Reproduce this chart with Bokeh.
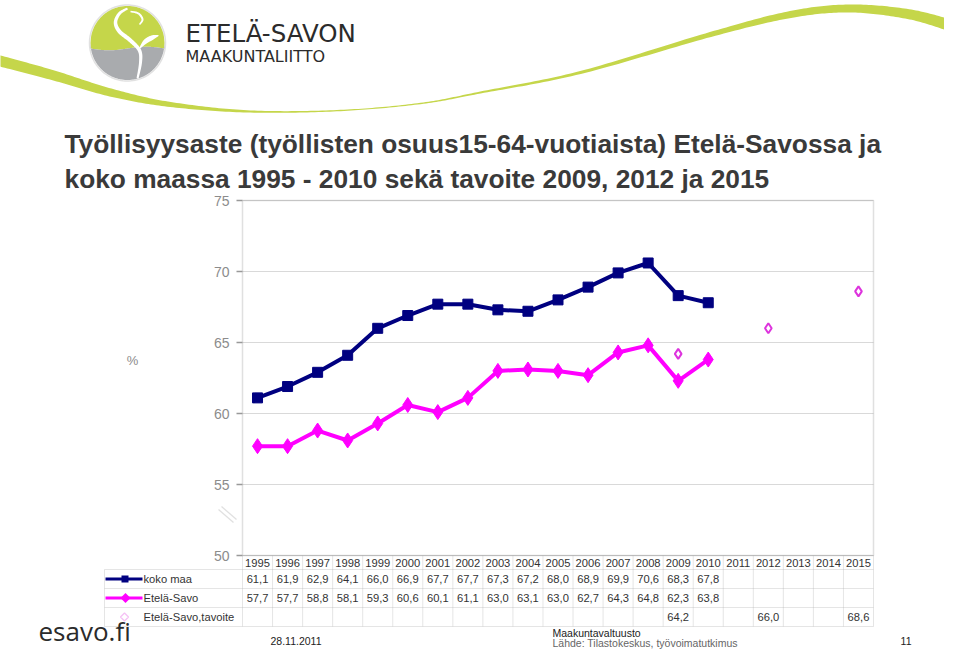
import numpy as np
from bokeh.plotting import figure
from bokeh.models import (Range1d, Label, LabelSet, ColumnDataSource, BoxAnnotation,
                          PolyAnnotation)
from bokeh.core.properties import value
from bokeh.embed import file_html
from bokeh.resources import INLINE

# ---------------- data ----------------
years = list(range(1995, 2016))
years_hist = list(range(1995, 2011))
koko_maa = [61.1, 61.9, 62.9, 64.1, 66.0, 66.9, 67.7, 67.7, 67.3, 67.2,
            68.0, 68.9, 69.9, 70.6, 68.3, 67.8]
etela_savo = [57.7, 57.7, 58.8, 58.1, 59.3, 60.6, 60.1, 61.1, 63.0, 63.1,
              63.0, 62.7, 64.3, 64.8, 62.3, 63.8]
tavoite_years = [2009, 2012, 2015]
tavoite = [64.2, 66.0, 68.6]
y_ticks = [50, 55, 60, 65, 70, 75]
series_names = ["koko maa", "Etelä-Savo", "Etelä-Savo,tavoite"]
title_lines = ["Työllisyysaste (työllisten osuus15-64-vuotiaista) Etelä-Savossa ja",
               "koko maassa 1995 - 2010 sekä tavoite 2009, 2012 ja 2015"]

NAVY = "#000080"
MAGENTA = "#ff00ff"
TAV = "#dd33dd"
LIME = "#c5d64a"
GRID = "#aaaaaa"
AXIS = "#999999"
TXT = "#333333"
FONT = "Liberation Sans"

W, H = 944, 649
# pixel box of the chart area inside the canvas (layout only)
FR_L, FR_R, FR_T, FR_B = 242, 873, 200, 555
Y_MIN, Y_MAX = y_ticks[0], y_ticks[-1]
X_MIN, X_MAX = years[0] - 0.5, years[-1] + 0.5
ppx = (FR_R - FR_L) / (X_MAX - X_MIN)
ppy = (FR_B - FR_T) / (Y_MAX - Y_MIN)
x_range = Range1d(X_MIN - FR_L / ppx, X_MAX + (W - FR_R) / ppx)
y_range = Range1d(Y_MIN - (H - FR_B) / ppy, Y_MAX + FR_T / ppy)

p = figure(width=W, height=H, output_backend="svg", toolbar_location=None,
           x_range=x_range, y_range=y_range,
           x_axis_location=None, y_axis_location=None, min_border=0)
p.background_fill_color = "white"
p.border_fill_color = "white"
p.outline_line_color = None
p.grid.visible = False

# ---------------- axis drawn with the chart's scales ----------------
p.segment(x0=[X_MIN] * len(y_ticks), x1=[X_MAX] * len(y_ticks), y0=y_ticks, y1=y_ticks,
          line_color="#d9d9d9", line_width=1.2)
p.ray(x=[X_MIN] * len(y_ticks), y=y_ticks, length=6, length_units="screen", angle=np.pi,
      line_color=AXIS, line_width=1.3)
p.text(x=[X_MIN] * len(y_ticks), y=y_ticks, text=[str(t) for t in y_ticks], x_offset=-13,
       text_align="right", text_baseline="middle", text_font=value(FONT),
       text_font_size="14px", text_color="#8c8c8c")
p.add_layout(BoxAnnotation(left=X_MIN, right=X_MAX, bottom=Y_MIN, top=Y_MAX,
                           fill_alpha=0, line_color=AXIS, line_width=1.5))

# ---------------- series ----------------
p.line(years_hist, koko_maa, color=NAVY, line_width=4)
p.scatter(years_hist, koko_maa, marker="square", size=10, color=NAVY)
p.line(years_hist, etela_savo, color=MAGENTA, line_width=4)
p.scatter(years_hist, etela_savo, marker="diamond", size=15, color=MAGENTA)
p.scatter(tavoite_years, tavoite, marker="diamond", size=10, fill_color="white",
          line_color=TAV, line_width=2)

# ---------------- helpers for decoration ----------------
def catmull(pts, n=24):
    pts = np.asarray(pts, dtype=float)
    P = np.vstack([pts[0], pts, pts[-1]])
    out = []
    for i in range(1, len(P) - 2):
        p0, p1, p2, p3 = P[i - 1], P[i], P[i + 1], P[i + 2]
        t = np.linspace(0, 1, n, endpoint=False)[:, None]
        seg = 0.5 * ((2 * p1) + (-p0 + p2) * t + (2 * p0 - 5 * p1 + 4 * p2 - p3) * t ** 2
                     + (-p0 + 3 * p1 - 3 * p2 + p3) * t ** 3)
        out.append(seg)
    out.append(P[-2][None, :])
    return np.vstack(out)

def stroke(pts, n=24):
    c = catmull(pts, n)
    x, y, w = c[:, 0], c[:, 1], c[:, 2]
    dx, dy = np.gradient(x), np.gradient(y)
    ln = np.hypot(dx, dy) + 1e-9
    nx, ny = -dy / ln, dx / ln
    xs = np.concatenate([x + nx * w / 2, (x - nx * w / 2)[::-1]])
    ys = np.concatenate([y + ny * w / 2, (y - ny * w / 2)[::-1]])
    return list(xs), list(ys)

def poly(xs, ys, **kw):
    p.add_layout(PolyAnnotation(xs=list(xs), ys=list(ys), xs_units="canvas",
                                ys_units="canvas", **kw))

def label(x, y, text, **kw):
    kw.setdefault("text_baseline", "middle")
    p.add_layout(Label(x=x, y=y, x_units="canvas", y_units="canvas", text=text, **kw))

# ---------------- green swoosh ----------------
sw = [(-10, 58, 11), (50, 74, 10), (110, 92, 8), (170, 104, 5), (250, 111, 2.2),
      (340, 110, 1.3), (420, 103, 1.3), (480, 92, 2), (580, 72, 3), (710, 34, 5),
      (790, 14, 7), (850, 8, 8), (910, 14, 10), (956, 27, 12)]
xs, ys = stroke(sw)
poly(xs, ys, fill_color=LIME, fill_alpha=1, line_color=None)

# ---------------- logo ----------------
LCX, LCY, LR = 127, 42.5, 37
xx = np.linspace(LCX - LR, LCX + LR, 120)
half = np.sqrt(np.clip(LR ** 2 - (xx - LCX) ** 2, 0, None))
top_arc, bot_arc = LCY - half, LCY + half
bnd = 48 + 1.8 * np.sin((xx - (LCX - LR)) / (2 * LR) * 2 * np.pi)
poly(np.concatenate([xx, xx[::-1]]), np.concatenate([top_arc, np.minimum(bnd, bot_arc)[::-1]]),
     fill_color=LIME, fill_alpha=1, line_color=None)
poly(np.concatenate([xx, xx[::-1]]), np.concatenate([np.maximum(bnd, top_arc), bot_arc[::-1]]),
     fill_color="#a9abae", fill_alpha=1, line_color=None)
ang = np.linspace(0, 2 * np.pi, 120)
poly(LCX + (LR + 1) * np.cos(ang), LCY + (LR + 1) * np.sin(ang),
     fill_color=None, line_color="#9a9a9a", line_width=1.5)
for pts in ([(127, 8, 2), (119, 13, 3), (115, 22, 3.5), (119, 31, 4), (130, 40, 4),
             (139, 50, 3.5), (140, 62, 3), (137, 78, 2)],
            [(130, 11, 1.5), (138, 13, 2), (142, 19, 2), (139, 24, 1.5)],
            [(139, 48, 1), (145, 41, 4.5), (152, 37, 4.5), (158, 35, 1)]):
    xs, ys = stroke(pts, 16)
    poly(xs, ys, fill_color="white", fill_alpha=1, line_color=None)

label(185, 33, "ETELÄ-SAVON", text_font="DejaVu Sans", text_font_size="24.5px",
      text_color="#2b2b2b")
label(185, 56, "MAAKUNTALIITTO", text_font="DejaVu Sans", text_font_size="16px",
      text_color="#2b2b2b")

# ---------------- title ----------------
for t, my in zip(title_lines, [143, 178]):
    label(64, my, t, text_font=FONT, text_font_style="bold", text_font_size="26.3px",
          text_color="#3a3a3a")

# ---------------- axis extras ----------------
label(132, 360, "%", text_font=FONT, text_font_size="13px", text_color="#8c8c8c",
      text_align="center")
for d in (0, 3):
    poly([218 + d, 233 + d], [509 - d, 522 - d], fill_color=None, line_color=AXIS,
         line_width=1.3)

# ---------------- data table ----------------
ROW_EDGES = [555, 569, 588, 607, 626]
ROW_MID = [562, 578.5, 597.5, 616.5]
LEG_L = 104
edges = [y - 0.5 for y in years] + [years[-1] + 0.5]
for e in edges:
    p.add_layout(PolyAnnotation(xs=[e, e], ys=[ROW_EDGES[0], ROW_EDGES[-1]],
                                xs_units="data", ys_units="canvas", fill_color=None,
                                line_color=GRID, line_width=1))
poly([LEG_L, LEG_L], [ROW_EDGES[1], ROW_EDGES[-1]], fill_color=None, line_color=GRID,
     line_width=1)
for i, ry in enumerate(ROW_EDGES):
    p.add_layout(PolyAnnotation(xs=[edges[0], edges[-1]], ys=[ry, ry],
                                xs_units="data", ys_units="canvas", fill_color=None,
                                line_color=GRID, line_width=1))
    if i > 0:
        poly([LEG_L, FR_L], [ry, ry], fill_color=None, line_color=GRID, line_width=1)

def fmt(v):
    return f"{v:.1f}".replace(".", ",")

cell_x, cell_y, cell_t = [], [], []
for yv in years:
    cell_x.append(yv); cell_y.append(ROW_MID[0]); cell_t.append(str(yv))
for row, xs_, vs_ in ((1, years_hist, koko_maa), (2, years_hist, etela_savo),
                      (3, tavoite_years, tavoite)):
    for yv, v in zip(xs_, vs_):
        cell_x.append(yv); cell_y.append(ROW_MID[row]); cell_t.append(fmt(v))
src = ColumnDataSource(dict(x=cell_x, y=cell_y, t=cell_t))
p.add_layout(LabelSet(x="x", y="y", text="t", source=src, x_units="data", y_units="canvas",
                      text_font=value(FONT), text_font_size="11.2px", text_color=TXT,
                      text_align="center", text_baseline="middle"))

# legend column
for name, ry in zip(series_names, ROW_MID[1:]):
    label(143, ry, name, text_font=FONT, text_font_size="11.2px", text_color=TXT)
y1, y2, y3 = ROW_MID[1], ROW_MID[2], ROW_MID[3]
def cbox(l, r, t, b, c):
    p.add_layout(BoxAnnotation(left=l, right=r, top=t, bottom=b, left_units="canvas",
                               right_units="canvas", top_units="canvas",
                               bottom_units="canvas", fill_color=c, fill_alpha=1,
                               line_color=None))
cbox(105, 142, y1 - 1.5, y1 + 1.5, NAVY)
cbox(121, 128, y1 - 3.5, y1 + 3.5, NAVY)
cbox(105, 142, y2 - 1.5, y2 + 1.5, MAGENTA)
poly([125, 130, 125, 120], [y2 - 5, y2, y2 + 5, y2], fill_color=MAGENTA, fill_alpha=1,
     line_color=None)
poly([124, 128, 124, 120], [y3 - 4, y3, y3 + 4, y3], fill_color="white", fill_alpha=1,
     line_color=TAV, line_width=1.3)

# ---------------- footer ----------------
label(38, 630, "esavo.fi", text_font="Open Sans", text_font_size="26px",
      text_color="#2b2b2b")
label(270, 640, "28.11.2011", text_font=FONT, text_font_size="10.5px",
      text_color="#222222")
label(552, 632, "Maakuntavaltuusto", text_font=FONT, text_font_size="10.5px",
      text_color="#222222")
label(552, 642, "Lähde: Tilastokeskus, työvoimatutkimus", text_font=FONT,
      text_font_size="10.5px", text_color="#666666")
label(911, 640, "11", text_font=FONT, text_font_size="10.5px", text_color="#222222",
      text_align="right")

open("out.html", "w").write(file_html(p, INLINE))
